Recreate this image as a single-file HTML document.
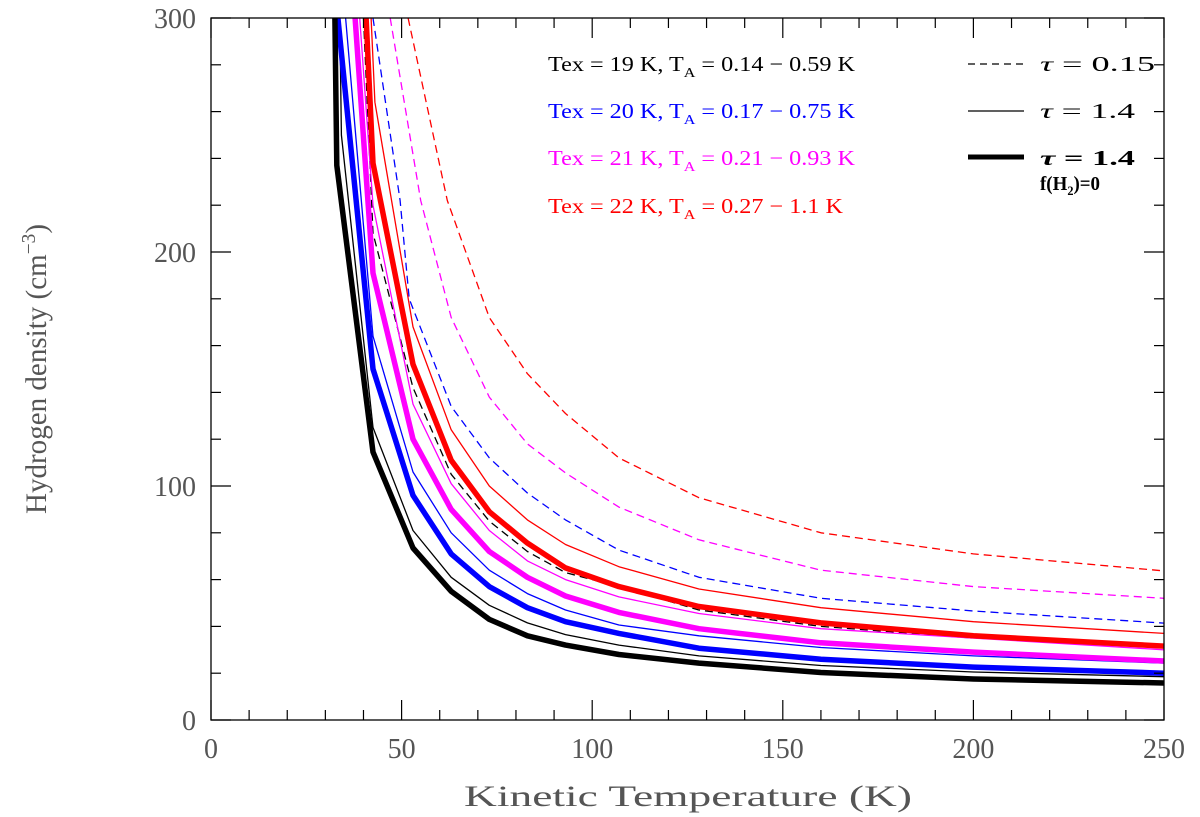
<!DOCTYPE html>
<html><head><meta charset="utf-8"><style>
html,body{margin:0;padding:0;background:#fff;}
svg{display:block;}
text{font-family:"Liberation Serif",serif;}
</style></head><body>
<svg id="chart" width="1200" height="817" viewBox="0 0 1200 817" xmlns="http://www.w3.org/2000/svg">
<defs><clipPath id="clip"><rect x="211" y="18" width="953" height="702"/></clipPath></defs>
<g id="curves" clip-path="url(#clip)"></g>
<rect x="211" y="18" width="953" height="702" fill="none" stroke="#000" stroke-width="1.3"/>
<g id="ticks"></g>
<text x="688" y="806" font-size="30" fill="#555" text-anchor="middle" textLength="448" lengthAdjust="spacingAndGlyphs">Kinetic Temperature (K)</text>
<text transform="translate(46,369) rotate(-90)" font-size="30" fill="#555" text-anchor="middle" textLength="290" lengthAdjust="spacingAndGlyphs">Hydrogen density (cm<tspan dy="-11" font-size="20">−3</tspan><tspan dy="11">)</tspan></text>
<g font-size="21" style="font-family:'Liberation Sans',sans-serif">
<text x="548" y="71" fill="#000" textLength="307" lengthAdjust="spacingAndGlyphs">Tex = 19 K, T<tspan dy="6" font-size="14">A</tspan><tspan dy="-6"> = 0.14 − 0.59 K</tspan></text>
<text x="548" y="118" fill="#0000ff" textLength="307" lengthAdjust="spacingAndGlyphs">Tex = 20 K, T<tspan dy="6" font-size="14">A</tspan><tspan dy="-6"> = 0.17 − 0.75 K</tspan></text>
<text x="548" y="165" fill="#ff00ff" textLength="307" lengthAdjust="spacingAndGlyphs">Tex = 21 K, T<tspan dy="6" font-size="14">A</tspan><tspan dy="-6"> = 0.21 − 0.93 K</tspan></text>
<text x="548" y="213" fill="#ff0000" textLength="295" lengthAdjust="spacingAndGlyphs">Tex = 22 K, T<tspan dy="6" font-size="14">A</tspan><tspan dy="-6"> = 0.27 − 1.1 K</tspan></text>
<line x1="968" y1="64" x2="1024" y2="64" stroke="#000" stroke-width="1.3" stroke-dasharray="7,5"/>
<line x1="968" y1="111" x2="1024" y2="111" stroke="#000" stroke-width="1.3"/>
<line x1="968" y1="157" x2="1024" y2="157" stroke="#000" stroke-width="5"/>
<text x="1040" y="71" fill="#000" textLength="115" lengthAdjust="spacingAndGlyphs"><tspan font-style="italic" font-family="Liberation Serif">τ</tspan> = 0.15</text>
<text x="1040" y="118" fill="#000" textLength="95" lengthAdjust="spacingAndGlyphs"><tspan font-style="italic" font-family="Liberation Serif">τ</tspan> = 1.4</text>
<text x="1040" y="165" fill="#000" font-weight="bold" textLength="95" lengthAdjust="spacingAndGlyphs"><tspan font-style="italic" font-family="Liberation Serif">τ</tspan> = 1.4</text>
<text x="1040" y="190" fill="#000" font-weight="bold" font-size="20" textLength="60" lengthAdjust="spacingAndGlyphs">f(H<tspan dy="5" font-size="13">2</tspan><tspan dy="-5">)=0</tspan></text>
</g>
</svg>
<script>
const xTicks = [0, 50, 100, 150, 200, 250];
const yTicks = [0, 100, 200, 300];
const blackThick = [[32.5,300],[33,237],[42.5,114.5],[53,73.5],[63,55],[73,43],[83,36],[93,32],[107,28],[128,24.3],[160,20.3],[200,17.5],[250,15.8]];
const blackThin = [[33.8,300],[34.2,250],[42.5,125],[53,81],[63,61],[73,49],[83,41.5],[93,36.5],[107,32],[128,27.4],[160,23.3],[200,20.5],[250,18.5]];
const blackDashed = [[40,300],[42.5,208],[53,142],[63,105],[73,85],[83,72],[93,63],[107,57],[128,47],[160,40],[200,35],[232,33]];
const blueThick = [[33.3,300],[42.5,150],[53,96],[63,71],[73,57],[83,48],[93,42],[107,37],[128,30.7],[160,26],[200,22.6],[250,20]];
const blueThin = [[35.3,300],[42.5,164],[53,106],[63,80],[73,64],[83,54],[93,47],[107,40.6],[128,36],[160,31],[200,27.4],[250,24.3]];
const blueDashed = [[42.5,300],[49.6,222],[52,180],[63,134],[73,112],[83,97],[93,85.5],[107,72.6],[128,61],[160,52],[200,46.6],[250,41.4]];
const magThick = [[37.8,300],[42.5,191],[53,120],[63,90],[73,72],[83,61],[93,53],[107,46],[128,39],[160,33],[200,29],[250,25.2]];
const magThin = [[39,300],[42.5,220],[53,135],[63,101],[73,81],[83,68],[93,60],[107,52.6],[128,45.5],[160,39],[200,35],[250,30]];
const magDashed = [[47,300],[55,222],[63,172],[73,138],[83,118],[93,105.6],[107,91],[128,77],[160,64],[200,57],[250,52]];
const redThick = [[40.7,300],[42.5,238],[53,152],[63,111],[73,89],[83,75.6],[93,65],[107,57],[128,48.5],[160,41.5],[200,36],[250,31.6]];
const redThin = [[42,300],[43,264],[53,168],[63,124],[73,100],[83,85.5],[93,75],[107,65.5],[128,56],[160,48],[200,42],[250,37]];
const redDashed = [[51.7,300],[62,222],[73,172],[83,148],[93,131],[107,112],[128,95],[160,80],[200,71],[250,63.7]];

const NS = "http://www.w3.org/2000/svg";
const X0 = 211, X1 = 1164, Y0 = 720, Y1 = 18;
function xs(t){ return X0 + (t - 0) / 250 * (X1 - X0); }
function ys(n){ return Y0 - n / 300 * (Y0 - Y1); }

const series = [
  [redDashed, '#ff0000', 1.3, '8,5', 'red-dashed-curve'],
  [magDashed, '#ff00ff', 1.3, '8,5', 'magenta-dashed-curve'],
  [blueDashed, '#0000ff', 1.3, '8,5', 'blue-dashed-curve'],
  [blackDashed, '#000', 1.3, '8,5', 'black-dashed-curve'],
  [redThin, '#ff0000', 1.3, null, 'red-thin-curve'],
  [magThin, '#ff00ff', 1.3, null, 'magenta-thin-curve'],
  [blueThin, '#0000ff', 1.3, null, 'blue-thin-curve'],
  [blackThin, '#000', 1.3, null, 'black-thin-curve'],
  [redThick, '#ff0000', 5.5, null, 'red-thick-curve'],
  [magThick, '#ff00ff', 5.5, null, 'magenta-thick-curve'],
  [blueThick, '#0000ff', 5.5, null, 'blue-thick-curve'],
  [blackThick, '#000', 5.5, null, 'black-thick-curve']
];
const g = document.getElementById('curves');
series.forEach(s => {
  const p = document.createElementNS(NS, 'polyline');
  p.setAttribute('points', s[0].map(d => xs(d[0]).toFixed(1) + ',' + ys(d[1]).toFixed(1)).join(' '));
  p.setAttribute('fill', 'none');
  p.setAttribute('stroke', s[1]);
  p.setAttribute('stroke-width', s[2]);
  p.setAttribute('stroke-linejoin', 'round');
  if (s[3]) p.setAttribute('stroke-dasharray', s[3]);
  
  
  g.appendChild(p);
});

const tg = document.getElementById('ticks');
function ln(x1,y1,x2,y2){
  const l = document.createElementNS(NS,'line');
  l.setAttribute('x1',x1);l.setAttribute('y1',y1);l.setAttribute('x2',x2);l.setAttribute('y2',y2);
  l.setAttribute('stroke','#000');l.setAttribute('stroke-width','1.2');
  
  
  tg.appendChild(l);
}
for (let t = 0; t <= 250; t += 10) {
  const L = (t % 50 === 0) ? 20 : 10;
  ln(xs(t), Y0, xs(t), Y0 - L); ln(xs(t), Y1, xs(t), Y1 + L);
}
for (let n = 0; n <= 300; n += 20) {
  const L = (n % 100 === 0) ? 20 : 10;
  ln(X0, ys(n), X0 + L, ys(n)); ln(X1, ys(n), X1 - L, ys(n));
}
xTicks.forEach(t => {
  const tx = document.createElementNS(NS,'text');
  tx.setAttribute('x', xs(t)); tx.setAttribute('y', 758);
  tx.setAttribute('text-anchor','middle'); tx.setAttribute('font-size','28'); tx.setAttribute('fill','#555');
  tx.textContent = t;
  
  
  tg.appendChild(tx);
});
yTicks.forEach(n => {
  const tx = document.createElementNS(NS,'text');
  tx.setAttribute('x', 196); tx.setAttribute('y', ys(n) + 10);
  tx.setAttribute('text-anchor','end'); tx.setAttribute('font-size','28'); tx.setAttribute('fill','#555');
  tx.textContent = n;
  
  
  tg.appendChild(tx);
});
</script>
</body></html>
